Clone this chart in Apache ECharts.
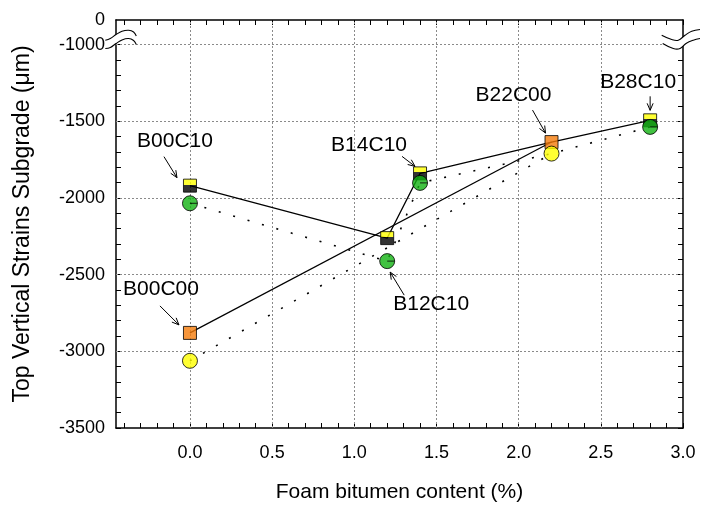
<!DOCTYPE html>
<html>
<head>
<meta charset="utf-8">
<script src="https://cdn.jsdelivr.net/npm/echarts@6/dist/echarts.min.js"></script>
<style>
  html, body { margin: 0; padding: 0; background: #fff; }
  #chart { width: 701px; height: 506px; }
</style>
</head>
<body>
<div id="chart"></div>
<script>
// Mixes: B = foam bitumen (x10 %), C = cement (x10 %)
const mixNames     = ['B00C00', 'B00C10', 'B12C10', 'B14C10', 'B22C00', 'B28C10'];
const foamBitumen  = [0.0, 0.0, 1.2, 1.4, 2.2, 2.8];
// square markers joined by solid lines
const strainSquare = [-2880, -1920, -2262, -1840, -1636, -1494];
// circle markers joined by dotted lines
const strainCircle = [-3062, -2035, -2412, -1902, -1711, -1537];

// connection order of the two curves
const pathCement   = ['B00C10', 'B12C10', 'B14C10', 'B22C00', 'B28C10'];
const pathNoCement = ['B00C00', 'B22C00'];

// axis labels
const xTickLabels = [0, 0.5, 1.0, 1.5, 2.0, 2.5, 3.0];
const yTickLabels = [-3500, -3000, -2500, -2000, -1500, -1000];
const yBreakTop   = -840;   // top of the broken axis, shown as "0"
const xGridValues = [0, 0.5, 1.0, 1.5, 2.0, 2.5];
const yGridValues = [-3000, -2500, -2000, -1500, -1000];

const FONT = '"Liberation Sans", Arial, Helvetica, sans-serif';
const X_MIN = -0.45, X_MAX = 3.0, Y_MIN = -3500;

const xMinorTicks = [];
for (let k = -4; k <= 30; k++) xMinorTicks.push(k / 10);
const yMinorTicks = [];
for (let v = -3500; v <= -1000; v += 100) yMinorTicks.push(v);

const idx = name => mixNames.indexOf(name);
const noCement = name => name.endsWith('C00');

const pathData = (path, values) => path.map(n => [foamBitumen[idx(n)], values[idx(n)]]);

const splitSquare = {
  type: 'linear', x: 0, y: 0, x2: 0, y2: 1,
  colorStops: [
    { offset: 0, color: '#ffff00' }, { offset: 0.42, color: '#ffff00' },
    { offset: 0.42, color: '#000000' }, { offset: 1, color: '#000000' }
  ]
};
const pieCircle = 'path://M20,10 A10,10 0 1 1 0,10 A10,10 0 1 1 20,10 Z M10,10 L20,10';

const squareData = mixNames.map((n, i) => ({
  value: [foamBitumen[i], strainSquare[i]],
  itemStyle: { color: noCement(n) ? '#f57c0a' : splitSquare, borderColor: '#000', borderWidth: 1 }
}));
const circleData = mixNames.map((n, i) => ({
  value: [foamBitumen[i], strainCircle[i]],
  symbol: noCement(n) ? 'circle' : pieCircle,
  itemStyle: { color: noCement(n) ? '#ffff00' : '#11b311', borderColor: '#000', borderWidth: 1 }
}));

const axisLine = { show: true, onZero: false, lineStyle: { color: '#000', width: 1.5 } };
const tickStyle = { color: '#000', width: 1 };

const chart = echarts.init(document.getElementById('chart'), null, { renderer: 'canvas' });

const solid = { color: '#000', width: 1.2 };
const dotted = { color: '#000', width: 1.6, type: [2, 13], cap: 'butt' };

const option = {
  animation: false,
  backgroundColor: '#fff',
  grid: { left: 116, right: 18, top: 20, bottom: 78, containLabel: false, outerBoundsMode: 'none' },
  xAxis: [
    {
      type: 'value', position: 'bottom', min: X_MIN, max: X_MAX,
      name: 'Foam bitumen content (%)', nameLocation: 'middle', nameGap: 54,
      nameTextStyle: { fontFamily: FONT, fontSize: 21, color: '#000' },
      axisLine,
      axisTick: { show: true, inside: true, length: 5, customValues: xMinorTicks, lineStyle: tickStyle },
      axisLabel: { customValues: xTickLabels, formatter: v => v.toFixed(1), margin: 16,
                   fontFamily: FONT, fontSize: 18, color: '#000' },
      splitLine: { show: false }
    },
    {
      type: 'value', position: 'top', min: X_MIN, max: X_MAX,
      axisLine,
      axisTick: { show: true, inside: true, length: 5, customValues: xMinorTicks, lineStyle: tickStyle },
      axisLabel: { show: false },
      splitLine: { show: false }
    }
  ],
  yAxis: [
    {
      type: 'value', position: 'left', min: Y_MIN, max: yBreakTop,
      name: 'Top Vertical Strains Subgrade (\u03bcm)', nameLocation: 'middle', nameGap: 82,
      nameTextStyle: { fontFamily: FONT, fontSize: 23, color: '#000' },
      axisLine,
      axisTick: { show: true, inside: true, length: 5, customValues: yMinorTicks, lineStyle: tickStyle },
      axisLabel: { customValues: yTickLabels.concat([yBreakTop]),
                   formatter: v => (v === yBreakTop ? '0' : String(v)), margin: 11,
                   fontFamily: FONT, fontSize: 18, color: '#000' },
      splitLine: { show: false }
    },
    {
      type: 'value', position: 'right', min: Y_MIN, max: yBreakTop,
      axisLine,
      axisTick: { show: true, inside: true, length: 5, customValues: yMinorTicks, lineStyle: tickStyle },
      axisLabel: { show: false },
      splitLine: { show: false }
    }
  ],
  series: [
    {
      name: 'grid', type: 'line', data: [], symbol: 'none', silent: true, z: 1,
      markLine: {
        z: 1, silent: true, symbol: 'none', animation: false,
        label: { show: false },
        lineStyle: { color: '#8a8a8a', width: 1, type: [2, 2] },
        emphasis: { disabled: true },
        data: xGridValues.map(v => ({ xAxis: v })).concat(yGridValues.map(v => ({ yAxis: v })))
      }
    },
    { type: 'line', data: pathData(pathCement, strainSquare), symbol: 'none', lineStyle: solid, z: 2, silent: true },
    { type: 'line', data: pathData(pathNoCement, strainSquare), symbol: 'none', lineStyle: solid, z: 2, silent: true },
    { type: 'line', data: pathData(pathCement, strainCircle), symbol: 'none', lineStyle: dotted, z: 2, silent: true },
    { type: 'line', data: pathData(pathNoCement, strainCircle), symbol: 'none', lineStyle: dotted, z: 2, silent: true },
    { type: 'scatter', data: squareData, symbol: 'rect', symbolSize: 13, z: 3, silent: true },
    { type: 'scatter', data: circleData, symbolSize: 15, z: 4, silent: true }
  ]
};
chart.setOption(option);

// --- mix labels with arrows, offsets in px from the marker they point at ---
const annotations = [
  { mix: 'B00C10', on: 'square', text: [-15, -44], tail: [-26, -29], head: [-13, -8] },
  { mix: 'B00C00', on: 'square', text: [-29, -44], tail: [-30, -27], head: [-11, -8] },
  { mix: 'B14C10', on: 'square', text: [-51, -28], tail: [-18, -17], head: [-5, -7] },
  { mix: 'B12C10', on: 'circle', text: [44, 43], tail: [17, 34], head: [3, 11] },
  { mix: 'B22C00', on: 'square', text: [-38, -47], tail: [-19, -32], head: [-6, -9] },
  { mix: 'B28C10', on: 'square', text: [-12, -38], tail: [0, -24], head: [0, -10] }
];

const toPx = (x, y) => chart.convertToPixel({ xAxisIndex: 0, yAxisIndex: 0 }, [x, y]);
const graphics = [];

annotations.forEach(a => {
  const i = idx(a.mix);
  const p = toPx(foamBitumen[i], a.on === 'square' ? strainSquare[i] : strainCircle[i]);
  const t = [p[0] + a.tail[0], p[1] + a.tail[1]];
  const h = [p[0] + a.head[0], p[1] + a.head[1]];
  const dx = h[0] - t[0], dy = h[1] - t[1];
  const len = Math.hypot(dx, dy);
  const ux = dx / len, uy = dy / len;
  const L = 7, W = 3;
  graphics.push({
    type: 'line', z: 50, silent: true,
    shape: { x1: t[0], y1: t[1], x2: h[0], y2: h[1] },
    style: { stroke: '#000', lineWidth: 1 }
  });
  graphics.push({
    type: 'polyline', z: 50, silent: true,
    shape: { points: [
      [h[0] - L * ux - W * uy, h[1] - L * uy + W * ux],
      h,
      [h[0] - L * ux + W * uy, h[1] - L * uy - W * ux]
    ] },
    style: { stroke: '#000', lineWidth: 1, fill: null }
  });
  graphics.push({
    type: 'text', z: 50, silent: true,
    style: {
      text: a.mix, x: p[0] + a.text[0], y: p[1] + a.text[1],
      fontFamily: FONT, fontSize: 21, fill: '#000',
      align: 'center', verticalAlign: 'middle',
      textAlign: 'center', textVerticalAlign: 'middle'
    }
  });
});

// --- axis break marks on both vertical axes, just above the -1000 line ---
function breakMark(ax, ay, upper, lower) {
  const up = upper.map(q => [ax + q[0], ay + q[1]]);
  const lo = lower.map(q => [ax + q[0], ay + q[1]]);
  graphics.push({
    type: 'polygon', z: 60, silent: true,
    shape: { points: up.concat(lo.slice().reverse()), smooth: 0 },
    style: { fill: '#fff', stroke: null }
  });
  [up, lo].forEach(pts => graphics.push({
    type: 'polyline', z: 61, silent: true,
    shape: { points: pts, smooth: 0.4 },
    style: { stroke: '#000', lineWidth: 1.1, fill: null }
  }));
}
const leftBase = toPx(X_MIN, -1000);
const rightBase = toPx(X_MAX, -1000);
breakMark(leftBase[0], leftBase[1],
  [[-10.7, -4.3], [-5.7, -6], [0, -10], [6, -13.3], [12.6, -14.3], [17.6, -12.6], [20.3, -8.6]],
  [[-10.7, 4], [-5.7, 3], [0, -1], [6, -4.6], [12.6, -6], [17.6, -4], [20.3, 0]]);
breakMark(rightBase[0], rightBase[1],
  [[-21.3, -9.3], [-11.3, -5], [-4.7, -4.3], [2, -9.3], [8.7, -13.3], [17, -15]],
  [[-20.3, -1], [-9.7, 4], [-3, 4], [3, -1], [10.3, -4.3], [17, -6]]);

chart.setOption({ graphic: { elements: graphics } });
</script>
</body>
</html>
